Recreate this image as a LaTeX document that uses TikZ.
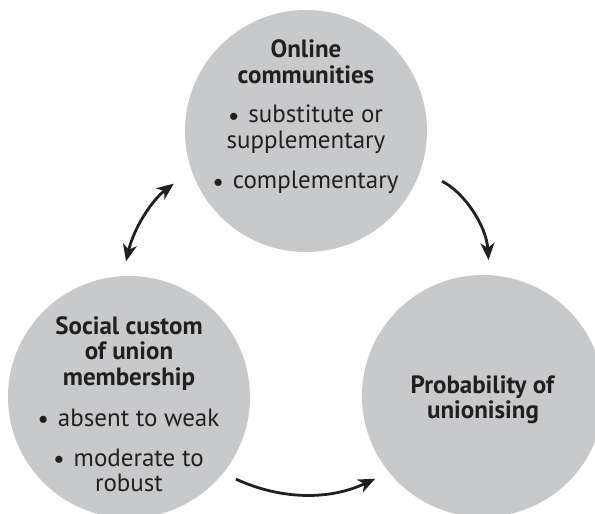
\documentclass[tikz,border=0pt]{standalone}
\usepackage{fontspec}
\setmainfont{PT Sans}
\usepackage{xcolor}
\usepackage{graphicx}
\usetikzlibrary{arrows.meta}
\definecolor{circgray}{RGB}{200,201,203}
\definecolor{inkblack}{RGB}{35,31,32}
\newcommand{\bul}{\raisebox{1.6pt}{\scalebox{0.75}{$\bullet$}}\hspace{0.4em}}

\begin{document}
\begin{tikzpicture}[
            circ-node/.style={circle,fill=circgray,minimum size=242pt,inner sep=0pt},
            text-node/.style={align=center,text=inkblack,inner sep=0pt,font=\fontsize{25}{25.5}\selectfont},
            arrow-line/.style={draw=inkblack,line width=2.8pt,-{Stealth[length=17pt,width=14pt,inset=5pt]}},
        ]
            \useasboundingbox (0pt,0pt) rectangle (595pt,514pt);

            \node[circ-node] (online) at (306pt, 383pt) {};
            \node[circ-node] (custom) at (129pt, 117pt) {};
            \node[circ-node] (prob) at (483pt, 118pt) {};

            \node[text-node] (online-text) at (306pt, 397pt) {\textbf{Online}\\\textbf{communities}\\[14pt]
                \bul substitute or\\supplementary\\[15pt]\bul complementary};
            \node[text-node] (custom-text) at (129pt, 110pt) {\textbf{Social custom}\\\textbf{of union}\\\textbf{membership}\\[16pt]
                \bul absent to weak\\[14pt]\bul moderate to\\robust};
            \node[text-node] (prob-text) at (483pt, 114pt) {\textbf{Probability of}\\\textbf{unionising}};

            \draw[arrow-line,{Stealth[length=17pt,width=14pt,inset=5pt]}-{Stealth[length=17pt,width=14pt,inset=5pt]},
                shorten <=15pt,shorten >=22pt] (custom.93) to[bend left=20] (online.199);
            \draw[arrow-line,shorten <=24pt,shorten >=15pt] (online.341) to[bend left=30] (prob.87);
            \draw[arrow-line,shorten <=14pt,shorten >=15pt] (custom.321) to[bend right=25] (prob.219);
        \end{tikzpicture}
\end{document}
